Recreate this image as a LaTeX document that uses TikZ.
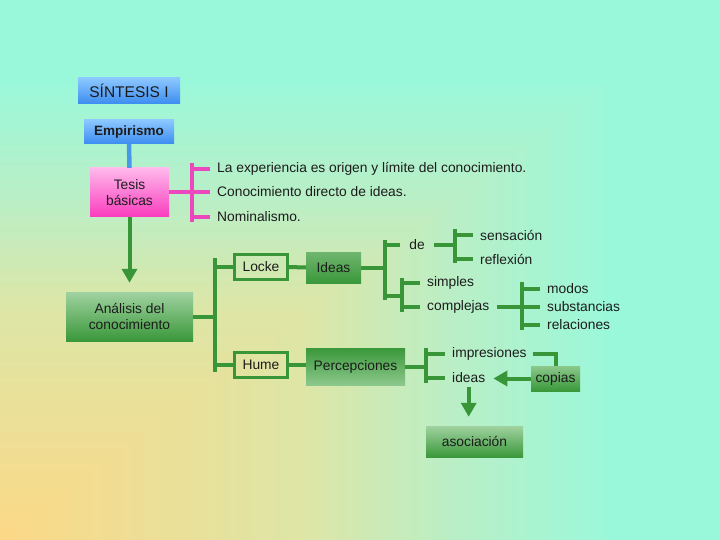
\documentclass[tikz,border=0pt]{standalone}
\usepackage{fontspec}
\setmainfont{Liberation Sans}
\usepackage{tikz}
\usetikzlibrary{arrows.meta, positioning, calc}

\definecolor{bgaqua}{RGB}{154,248,218}
\definecolor{bgmidb}{RGB}{188,238,196}
\definecolor{bgmida}{RGB}{221,230,166}
\definecolor{bgyellow}{RGB}{252,216,135}
\definecolor{lineblue}{RGB}{72,152,232}
\definecolor{linepink}{RGB}{236,72,190}
\definecolor{linegreen}{RGB}{56,150,56}
\definecolor{textgray}{RGB}{28,28,28}

\begin{document}
\begin{tikzpicture}[
    x=1pt, y=-1pt,
    every node/.style={font=\fontsize{13.8}{16}\selectfont, text=textgray},
    bluebox/.style={rectangle, top color={rgb,255:red,140;green,200;blue,255}, bottom color={rgb,255:red,60;green,140;blue,240}, inner sep=0pt, align=center},
    pinkbox/.style={rectangle, top color={rgb,255:red,255;green,185;blue,235}, bottom color={rgb,255:red,250;green,60;blue,190}, inner sep=0pt, align=center},
    greenbox/.style={rectangle, top color={rgb,255:red,160;green,210;blue,160}, bottom color={rgb,255:red,58;green,152;blue,58}, inner sep=0pt, align=center},
    darkbox/.style={rectangle, top color={rgb,255:red,58;green,152;blue,58}, bottom color={rgb,255:red,140;green,200;blue,140}, inner sep=0pt, align=center},
    framebox/.style={rectangle, draw=linegreen, line width=3pt, inner sep=0pt, minimum width=53pt, minimum height=25pt},
    label/.style={anchor=west, inner sep=2pt},
    blueline/.style={draw=lineblue, line width=4.5pt},
    pinkline/.style={draw=linepink, line width=4pt},
    greenline/.style={draw=linegreen, line width=4pt},
    arrow/.style={draw=linegreen, line width=4pt, -{Triangle[width=15pt,length=14pt]}},
]
    \useasboundingbox (0,0) rectangle (720,540);

    % Background, from the lower left corner
    \fill[bgaqua] (0,0) rectangle (720,540);
    \foreach \i in {85,84,...,1} {
        \ifnum\i>62
            \pgfmathtruncatemacro\p{(\i-62)*100/23}
            \colorlet{bgc}{bgaqua!\p!bgmidb}
        \else\ifnum\i>43
            \pgfmathtruncatemacro\p{(\i-43)*100/19}
            \colorlet{bgc}{bgmidb!\p!bgmida}
        \else
            \pgfmathtruncatemacro\p{\i*100/43}
            \colorlet{bgc}{bgmida!\p!bgyellow}
        \fi\fi
        \fill[bgc] (0,540) rectangle (\i*7.2, 540-\i*5.4);
    }

    % Title and left column
    \node[bluebox, minimum width=102pt, minimum height=26pt, font=\fontsize{15.5}{18}\selectfont] (sintesis) at (129,91) {SÍNTESIS I};
    \node[bluebox, minimum width=90pt, minimum height=24pt, font=\bfseries\fontsize{13.5}{16}\selectfont] (empirismo) at (129,132) {Empirismo};
    \node[pinkbox, minimum width=79pt, minimum height=49pt] (tesis) at (129.5,192.5) {Tesis\\básicas};
    \node[greenbox, minimum width=127pt, minimum height=49pt] (analisis) at (129.5,316.5) {Análisis del\\conocimiento};

    % Tesis básicas
    \node[label] (tx1) at (215,169) {La experiencia es origen y límite del conocimiento.};
    \node[label] (tx2) at (215,192) {Conocimiento directo de ideas.};
    \node[label] (tx3) at (215,217) {Nominalismo.};

    % Locke and Hume
    \node[framebox] (locke) at (261,267) {Locke};
    \node[framebox] (hume) at (261,365) {Hume};
    \node[greenbox, top color={rgb,255:red,112;green,182;blue,112}, minimum width=55pt, minimum height=31pt] (ideas) at (333.5,267.5) {Ideas};
    \node[darkbox, minimum width=99pt, minimum height=37pt] (percepciones) at (355.5,366.5) {Percepciones};

    % Locke branch
    \node (de) at (417,245) {de};
    \node[label] (sensacion) at (478,235) {sensación};
    \node[label] (reflexion) at (478,259) {reflexión};
    \node[label] (simples) at (425,283) {simples};
    \node[label] (complejas) at (425,307) {complejas};
    \node[label] (modos) at (545,289) {modos};
    \node[label] (substancias) at (545,307) {substancias};
    \node[label] (relaciones) at (545,325) {relaciones};

    % Hume branch
    \node[label] (impresiones) at (450,354) {impresiones};
    \node[label] (ideasb) at (450,378) {ideas};
    \node[greenbox, top color={rgb,255:red,140;green,200;blue,140}, minimum width=49pt, minimum height=25pt] (copias) at (555.5,378.5) {copias};
    \node[greenbox, minimum width=97pt, minimum height=31pt] (asociacion) at (474.5,441.5) {asociación};

    % Bars
    \coordinate (pbar) at (192,0);
    \coordinate (b1) at (215,0);
    \coordinate (b2) at (385,0);
    \coordinate (b3) at (402,0);
    \coordinate (b4) at (455,0);
    \coordinate (b5) at (522,0);
    \coordinate (b6) at (426,0);
    \coordinate (j2) at (385,296);

    % Connectors
    \draw[blueline] (empirismo.south) -- (tesis.north);
    \draw[arrow, shorten >=9pt] (tesis.south) -- (analisis.north);

    \draw[pinkline] (tesis.east) -- (tesis.east -| pbar);
    \draw[pinkline] ($(pbar |- tx1.west)+(0,-6)$) -- ($(pbar |- tx3.west)+(0,5)$);
    \foreach \t in {tx1,tx2,tx3}
        \draw[pinkline, shorten >=5pt] (pbar |- \t.west) -- (\t.west);

    \draw[greenline] (analisis.east) -- (analisis.east -| b1);
    \draw[greenline] ($(b1 |- locke.west)+(0,-9)$) -- ($(b1 |- hume.west)+(0,7)$);
    \draw[greenline] (b1 |- locke.west) -- (locke.west);
    \draw[greenline] (b1 |- hume.west) -- (hume.west);
    \draw[greenline] (locke) -- (ideas);
    \draw[greenline] (hume.east) -- (hume.east -| percepciones.west);

    \draw[greenline] (ideas.east) -- (ideas.east -| b2);
    \draw[greenline] ($(b2 |- de.west)+(0,-5)$) -- ($(j2)+(0,4)$);
    \draw[greenline, shorten >=6pt] (b2 |- de.west) -- (de.west);
    \draw[greenline] (j2) -- (j2 -| b3);

    \draw[greenline, shorten <=6pt] (de.east) -- (de.east -| b4);
    \draw[greenline] ($(b4 |- sensacion.west)+(0,-6)$) -- ($(b4 |- reflexion.west)+(0,4)$);
    \foreach \t in {sensacion,reflexion}
        \draw[greenline, shorten >=5pt] (b4 |- \t.west) -- (\t.west);

    \draw[greenline] ($(b3 |- simples.west)+(0,-5)$) -- ($(b3 |- complejas.west)+(0,5)$);
    \foreach \t in {simples,complejas}
        \draw[greenline, shorten >=5pt] (b3 |- \t.west) -- (\t.west);

    \draw[greenline, shorten <=5pt] (complejas.east) -- (complejas.east -| b5);
    \draw[greenline] ($(b5 |- modos.west)+(0,-7)$) -- ($(b5 |- relaciones.west)+(0,5)$);
    \foreach \t in {modos,substancias,relaciones}
        \draw[greenline, shorten >=5pt] (b5 |- \t.west) -- (\t.west);

    \draw[greenline] (percepciones.east) -- (percepciones.east -| b6);
    \draw[greenline] ($(b6 |- impresiones.west)+(0,-6)$) -- ($(b6 |- ideasb.west)+(0,5)$);
    \foreach \t in {impresiones,ideasb}
        \draw[greenline, shorten >=5pt] (b6 |- \t.west) -- (\t.west);

    \draw[greenline, shorten <=4pt] (impresiones.east) -| (copias.north);
    \draw[arrow, shorten >=6pt] (copias.west) -- (copias.west -| ideasb.east);
    \draw[arrow, shorten <=2pt, shorten >=9pt] (ideasb.south) -- (ideasb.south |- asociacion.north);
\end{tikzpicture}
\end{document}
